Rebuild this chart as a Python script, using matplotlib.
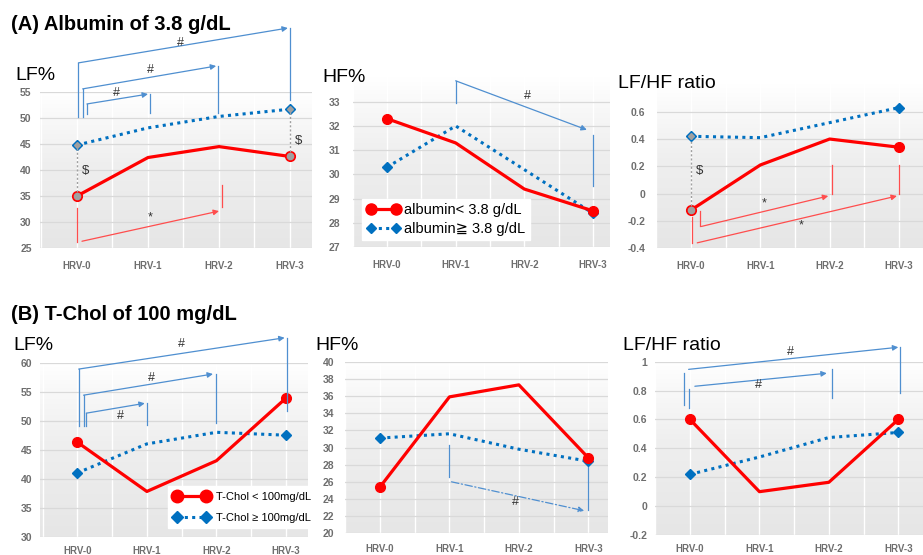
import numpy as np
import matplotlib
matplotlib.use("Agg")
import matplotlib.pyplot as plt
from matplotlib.colors import LinearSegmentedColormap
from matplotlib.lines import Line2D

plt.rcParams['font.family'] = ['Liberation Sans', 'DejaVu Sans', 'Noto Sans CJK JP']

# ---------------- data ----------------
hrv_labels = ['HRV-0', 'HRV-1', 'HRV-2', 'HRV-3']

a_lf_low = [35.0, 42.4, 44.5, 42.6]
a_lf_high = [44.8, 48.1, 50.3, 51.7]
a_hf_low = [32.3, 31.3, 29.4, 28.5]
a_hf_high = [30.3, 32.0, 30.2, 28.4]
a_ratio_low = [-0.12, 0.21, 0.40, 0.34]
a_ratio_high = [0.42, 0.41, 0.52, 0.63]

b_lf_low = [46.3, 37.8, 43.1, 53.9]
b_lf_high = [41.0, 46.0, 48.0, 47.5]
b_hf_low = [25.4, 35.9, 37.3, 28.8]
b_hf_high = [31.1, 31.6, 29.8, 28.4]
b_ratio_low = [0.60, 0.10, 0.165, 0.60]
b_ratio_high = [0.22, 0.34, 0.475, 0.51]

legend_a = ['albumin< 3.8 g/dL', 'albumin\u2267 3.8 g/dL']
legend_b = ['T-Chol < 100mg/dL', 'T-Chol \u2265 100mg/dL']

W, H = 923, 555
fig = plt.figure(figsize=(W / 100, H / 100), dpi=100)

RED = '#ff0000'
BLUE = '#0070c0'
BR_BLUE = '#4f8fd0'
BR_RED = '#ff4d4d'
GREY = '#a0a0a0'
TICK = '#6e6e6e'

bg_cmap = LinearSegmentedColormap.from_list(
    'bg', [(0, '#e6e6e6'), (0.55, '#efefef'), (0.85, '#f9f9f9'), (1, '#ffffff')])


def panel(L, R, top_px, bot_px, c0, c3, ylim, yticks, ylabels, xpad, ypad):
    ax = fig.add_axes([L / W, 1 - bot_px / H, (R - L) / W, (bot_px - top_px) / H])
    s = (c3 - c0) / 3.0
    xlim = ((L - c0) / s, (R - c0) / s)
    ax.set_xlim(*xlim)
    ax.set_ylim(*ylim)
    ax.imshow(np.linspace(0, 1, 256).reshape(-1, 1), cmap=bg_cmap, origin='lower',
              extent=(xlim[0], xlim[1], ylim[0], ylim[1]), aspect='auto', zorder=0)
    for xv in np.arange(-0.5, 3.6, 0.5):
        ax.axvline(xv, color='white', lw=1.0, zorder=1)
    for yv in yticks:
        ax.axhline(yv, color='#d9d9d9', lw=0.9, zorder=1.5)
    ax.set_yticks(yticks)
    ax.set_yticklabels(ylabels)
    ax.set_xticks(range(4))
    ax.set_xticklabels(hrv_labels)
    ax.tick_params(axis='both', length=0, colors=TICK)
    ax.tick_params(axis='x', pad=xpad, labelsize=7)
    ax.tick_params(axis='y', pad=ypad, labelsize=7.5)
    for lab in ax.get_xticklabels() + ax.get_yticklabels():
        lab.set_fontweight('bold')
    for sp in ax.spines.values():
        sp.set_visible(False)
    return ax


def series(ax, low, high, msize=7):
    x = range(4)
    ax.plot(x, high, color=BLUE, lw=2.2, ls=(0, (1, 1.4)), marker='D', ms=5,
            markevery=[0, 3], zorder=3, clip_on=False)
    ax.plot(x, low, color=RED, lw=2.3, marker='o', ms=msize, markevery=[0, 3],
            zorder=4, clip_on=False)


def vline(ax, x, y0, y1, color, lw=0.9, ls='-'):
    ax.plot([x, x], [y0, y1], color=color, lw=lw, ls=ls, zorder=5, clip_on=False)


def arrow(ax, x0, y0, x1, y1, color, ls='-'):
    ax.annotate('', xy=(x1, y1), xytext=(x0, y0), annotation_clip=False,
                arrowprops=dict(arrowstyle='-|>', color=color, lw=0.9, ls=ls,
                                mutation_scale=8, shrinkA=0, shrinkB=0), zorder=5)


def bracket(ax, left, arr, right, label, color, ls='-'):
    vline(ax, *left, color)
    arrow(ax, *arr, color, ls=ls)
    vline(ax, *right, color)
    ax.text(label[0], label[1], label[2], ha='center', va='center', fontsize=9,
            color='#333333', zorder=6, clip_on=False)


def dollar(ax, x, ylow, yhigh, ytext):
    vline(ax, x, ylow, yhigh, GREY, lw=1.0, ls=(0, (1.5, 1.5)))
    ax.plot([x], [yhigh], marker='D', ms=3, color=GREY, zorder=6, clip_on=False)
    ax.plot([x], [ylow], marker='o', ms=4.5, color=GREY, zorder=6, clip_on=False)
    ax.text(x + 0.12, ytext, '$', ha='center', va='center', fontsize=9.5,
            color='#333333', zorder=6)


# ---------------- (A) ----------------
ax1 = panel(40, 312, 92, 248, 77, 290, (25, 55), list(range(25, 56, 5)),
            [str(v) for v in range(25, 56, 5)], 9.5, 6)
series(ax1, a_lf_low, a_lf_high)
dollar(ax1, 0, a_lf_low[0], a_lf_high[0], 39.8)
dollar(ax1, 3, a_lf_low[3], a_lf_high[3], 45.6)
bracket(ax1, (0.02, 50.2, 60.6), (0.02, 60.6, 2.97, 67.3), (3.0, 67.3, 53.5), (1.45, 64.4, '#'), BR_BLUE)
bracket(ax1, (0.08, 50.2, 55.6), (0.08, 55.6, 1.96, 60.0), (1.99, 60.0, 51.0), (1.03, 59.2, '#'), BR_BLUE)
bracket(ax1, (0.14, 50.8, 52.7), (0.14, 52.7, 1.0, 54.6), (1.03, 54.6, 51.0), (0.55, 54.9, '#'), BR_BLUE)
bracket(ax1, (0.0, 32.7, 26.2), (0.07, 26.3, 2.0, 32.1), (2.04, 37.1, 32.9), (1.03, 30.8, '*'), BR_RED)

ax2 = panel(353, 610, 77.4, 247.3, 387, 593, (27, 34), list(range(27, 34)),
            [str(v) for v in range(27, 34)], 9.5, 9)
series(ax2, a_hf_low, a_hf_high)
bracket(ax2, (1.0, 32.95, 33.86), (1.0, 33.86, 2.91, 31.84), (3.0, 31.64, 29.54), (2.05, 33.23, '#'), BR_BLUE)

ax3 = panel(657, 923, 84.4, 248.3, 691, 899, (-0.4, 0.8), [-0.4, -0.2, 0, 0.2, 0.4, 0.6],
            ['-0.4', '-0.2', '0', '0.2', '0.4', '0.6'], 9.5, 8.5)
series(ax3, a_ratio_low, a_ratio_high)
dollar(ax3, 0, a_ratio_low[0], a_ratio_high[0], 0.166)
bracket(ax3, (0.13, -0.13, -0.24), (0.15, -0.24, 1.98, -0.017), (2.03, 0.21, 0.0), (1.05, -0.07, '*'), BR_RED)
bracket(ax3, (0.02, -0.17, -0.36), (0.09, -0.36, 2.97, -0.017), (3.0, 0.21, 0.0), (1.59, -0.235, '*'), BR_RED)

# ---------------- (B) ----------------
ax4 = panel(40, 308, 362.7, 536.7, 77.3, 286, (30, 60), list(range(30, 61, 5)),
            [str(v) for v in range(30, 61, 5)], 6.5, 5.5)
series(ax4, b_lf_low, b_lf_high)
bracket(ax4, (0.02, 49.1, 58.9), (0.02, 58.9, 2.98, 64.3), (3.02, 64.3, 51.7), (1.5, 63.3, '#'), BR_BLUE)
bracket(ax4, (0.09, 49.1, 54.4), (0.09, 54.4, 1.95, 58.05), (2.0, 58.05, 49.55), (1.06, 57.3, '#'), BR_BLUE)
bracket(ax4, (0.13, 49.1, 51.3), (0.13, 51.3, 0.97, 53.0), (1.0, 53.0, 49.3), (0.62, 50.8, '#'), BR_BLUE)

ax5 = panel(345, 608, 361.7, 533.3, 380, 588.3, (20, 40), list(range(20, 41, 2)),
            [str(v) for v in range(20, 41, 2)], 7.5, 7.5)
series(ax5, b_hf_low, b_hf_high)
bracket(ax5, (1.0, 30.3, 26.6), (1.03, 26.0, 2.94, 22.63), (3.0, 27.76, 22.7), (1.95, 23.7, '#'), BR_BLUE,
        ls=(0, (6, 2, 1, 2)))

ax6 = panel(655, 923, 361.7, 535, 690, 898.3, (-0.2, 1.0), [-0.2, 0, 0.2, 0.4, 0.6, 0.8, 1.0],
            ['-0.2', '0', '0.2', '0.4', '0.6', '0.8', '1'], 6.5, 5.5)
series(ax6, b_ratio_low, b_ratio_high)
bracket(ax6, (-0.09, 0.70, 0.924), (-0.02, 0.947, 3.0, 1.1), (3.03, 1.1, 0.78), (1.45, 1.065, '#'), BR_BLUE)
bracket(ax6, (-0.01, 0.677, 0.81), (0.07, 0.83, 1.97, 0.92), (2.05, 0.947, 0.746), (0.98, 0.84, '#'), BR_BLUE)

# ---------------- legends ----------------
h_red = Line2D([], [], color=RED, lw=2.3, marker='o', ms=8)
h_blue = Line2D([], [], color=BLUE, lw=2.2, ls=(0, (1, 1.4)), marker='D', ms=5.5)
leg = ax2.legend([h_red, h_blue], legend_a, loc='upper left', numpoints=2,
                 bbox_to_anchor=(362 / W, 1 - 199 / H), bbox_transform=fig.transFigure,
                 fontsize=10.5, frameon=True, fancybox=False, framealpha=1,
                 facecolor='white', edgecolor='white', handlelength=2.3,
                 handletextpad=0.3, labelspacing=0.3, borderpad=0.3, borderaxespad=0)
leg.set_zorder(10)

h_red2 = Line2D([], [], color=RED, lw=2.3, marker='o', ms=9)
h_blue2 = Line2D([], [], color=BLUE, lw=2.2, ls=(0, (1, 1.4)), marker='D', ms=6)
leg2 = ax4.legend([h_red2, h_blue2], legend_b, loc='upper left', numpoints=2,
                  bbox_to_anchor=(168 / W, 1 - 486 / H), bbox_transform=fig.transFigure,
                  fontsize=8, frameon=True, fancybox=False, framealpha=1,
                  facecolor='white', edgecolor='white', handlelength=3.2,
                  handletextpad=0.6, labelspacing=1.0, borderpad=0.5, borderaxespad=0)
leg2.set_zorder(10)

# ---------------- texts ----------------
fig.text(11 / W, 1 - 24 / H, '(A) Albumin of 3.8 g/dL', fontsize=14.5, fontweight='bold',
         ha='left', va='center')
fig.text(11 / W, 1 - 315 / H, '(B) T-Chol of 100 mg/dL', fontsize=14.5, fontweight='bold',
         ha='left', va='center')
for (px, py, txt) in [(15, 75, 'LF%'), (322, 77, 'HF%'), (618, 83, 'LF/HF ratio'),
                      (13, 345, 'LF%'), (315, 345, 'HF%'), (623, 345, 'LF/HF ratio')]:
    fig.text(px / W, 1 - py / H, txt, fontsize=14, ha='left', va='center')

fig.savefig('out.png', dpi=100)
